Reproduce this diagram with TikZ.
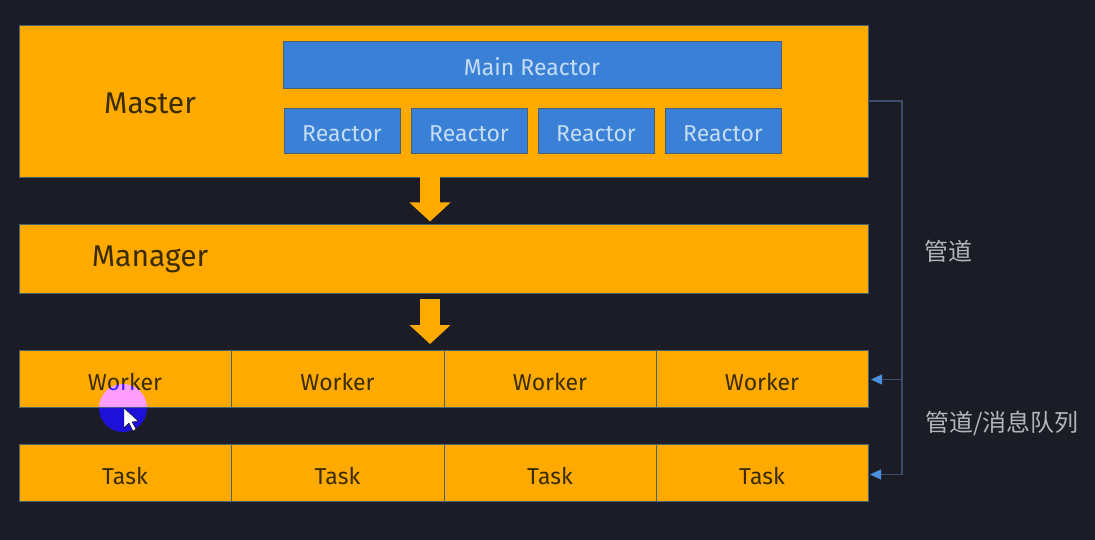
\documentclass[tikz,border=0pt]{standalone}
\usepackage{fontspec}
\setmainfont{Fira Sans}
\newfontfamily\cjk{Noto Sans CJK SC}
\usetikzlibrary{arrows.meta,calc}
\definecolor{bgc}{HTML}{1C1C26}
\definecolor{orangec}{HTML}{FFAA00}
\definecolor{bluec}{HTML}{3A80D6}
\definecolor{edgec}{HTML}{4A6270}
\definecolor{pipec}{HTML}{3D4C6C}
\definecolor{tipc}{HTML}{4A8FE0}
\definecolor{darktxt}{HTML}{3A2C00}
\definecolor{lighttxt}{HTML}{C4DDF5}
\definecolor{graytxt}{HTML}{B4B4BC}
\newcommand{\lowered}[1]{\raisebox{-12pt}[0pt][0pt]{#1}}
\newcommand{\lowerblue}[1]{\raisebox{-11pt}[0pt][0pt]{#1}}
\tikzset{
  box/.style={anchor=north west,inner sep=0pt,outer sep=0pt,fill=orangec,draw=edgec,line width=0.9pt,text=darktxt,font=\fontsize{23}{23}\selectfont},
  bluebox/.style={anchor=north west,inner sep=0pt,outer sep=0pt,fill=bluec,draw=edgec,line width=0.9pt,text=lighttxt,font=\fontsize{23}{23}\selectfont},
  title/.style={text=darktxt,inner sep=0pt,font=\fontsize{30}{30}\selectfont},
  note/.style={text=graytxt,inner sep=0pt,font=\cjk\fontsize{24}{24}\selectfont},
  flow/.style={orangec,line width=20pt,-{Triangle[width=40pt,length=19pt]}},
  pipe/.style={pipec,line width=1.2pt},
  pipetip/.style={pipe,-{Triangle[width=10pt,length=11pt,color=tipc,fill=tipc]}}
}
\begin{document}
\begin{tikzpicture}[x=1pt,y=-1pt]
\useasboundingbox (0,0) rectangle (1095,540);
\fill[bgc] (0,0) rectangle (1095,540);
% main bars
\node[box,minimum width=849pt,minimum height=152pt] (master) at (19,25) {};
\node[box,minimum width=849pt,minimum height=69pt] (manager) at (19,224) {};
\node[title] (mastertxt) at (150,103) {Master};
\node[title] (managertxt) at (150,259) {Manager};
% reactors
\node[bluebox,minimum width=498pt,minimum height=47pt] (main) at (283,41) {\lowerblue{Main Reactor}};
\node[bluebox,minimum width=116pt,minimum height=45pt] (r1) at (284,108) {\lowerblue{Reactor}};
\node[bluebox,minimum width=116pt,minimum height=45pt] (r2) at (411,108) {\lowerblue{Reactor}};
\node[bluebox,minimum width=116pt,minimum height=45pt] (r3) at (538,108) {\lowerblue{Reactor}};
\node[bluebox,minimum width=116pt,minimum height=45pt] (r4) at (665,108) {\lowerblue{Reactor}};
% workers
\node[box,minimum width=212pt,minimum height=57pt] (w1) at (19,350) {\lowered{Worker}};
\node[box,minimum width=213pt,minimum height=57pt] (w2) at (231,350) {\lowered{Worker}};
\node[box,minimum width=212pt,minimum height=57pt] (w3) at (444,350) {\lowered{Worker}};
\node[box,minimum width=212pt,minimum height=57pt] (w4) at (656,350) {\lowered{Worker}};
% tasks
\node[box,minimum width=212pt,minimum height=57pt] (t1) at (19,444) {\lowered{Task}};
\node[box,minimum width=213pt,minimum height=57pt] (t2) at (231,444) {\lowered{Task}};
\node[box,minimum width=212pt,minimum height=57pt] (t3) at (444,444) {\lowered{Task}};
\node[box,minimum width=212pt,minimum height=57pt] (t4) at (656,444) {\lowered{Task}};
% flow arrows
\coordinate (axis) at (430,0);
\draw[flow,shorten >=2.5pt] (master.south -| axis) -- (manager.north -| axis);
\draw[flow,shorten >=6pt] ($(manager.south -| axis)+(0,6)$) -- (w2.north -| axis);
% pipes
\coordinate (bus) at (902,0);
\coordinate (wt) at ($(w4.east)+(3,1)$);
\coordinate (tt) at ($(t4.east)+(2,2)$);
\draw[pipe] (master.east) -- (master.east -| bus) -- (tt -| bus);
\draw[pipetip] (wt -| bus) -- (wt);
\draw[pipetip] (tt -| bus) -- (tt);
% notes
\node[note] (n1) at (948,251) {管道};
\node[note] (n2) at (1002,423) {管道/消息队列};
% screen-recording cursor highlight
\begin{scope}[blend mode=difference]
\fill[fill={rgb,255:red,0;green,12;blue,255}] (123,408) circle (24);
\end{scope}
\fill[white,draw=black,line width=0.4pt] (124,408) -- (124,428) -- (129,423) -- (133,431) -- (136,429) -- (132,422) -- (138,421) -- cycle;
\end{tikzpicture}
\end{document}
